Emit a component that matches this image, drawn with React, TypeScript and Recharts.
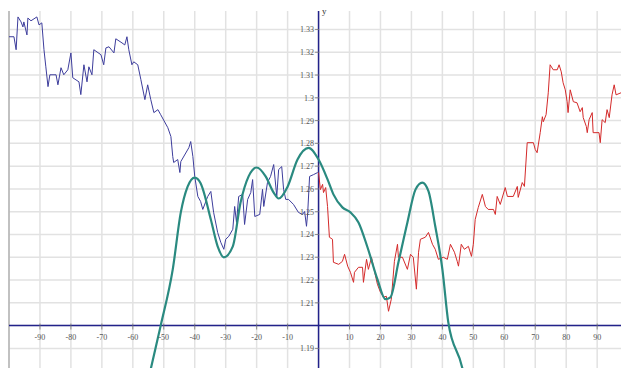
import { LineChart, Line, XAxis, YAxis, CartesianGrid, ReferenceLine } from 'recharts';

const W = 621;
const H = 369;
const M = { top: 11, right: 0, bottom: 0, left: 8 };
const X_DOMAIN: [number, number] = [-100, 97.7];
const Y_DOMAIN: [number, number] = [1.1814, 1.3381];

const xTicks = [-100, -90, -80, -70, -60, -50, -40, -30, -20, -10, 0, 10, 20, 30, 40, 50, 60, 70, 80, 90];
const yTicks = [1.19, 1.2, 1.21, 1.22, 1.23, 1.24, 1.25, 1.26, 1.27, 1.28, 1.29, 1.3, 1.31, 1.32, 1.33];

// serie azul (x < 0)
const blueX = [
    -100, -98.4, -97.7, -97.1, -96.1, -95.5, -95.2, -94.2, -93.9, -92.9, -91.0, -90.3, -89.4, -88.7, -88.1,
    -87.4, -86.8, -84.8, -84.2, -83.2, -82.3, -81.0, -80.0, -79.4, -77.4, -76.8, -75.8, -74.8, -74.2, -73.2,
    -72.6, -70.3, -69.4, -68.7, -67.7, -66.1, -65.5, -63.5, -62.6, -61.9, -61.3, -60.3, -59.7, -58.4, -57.4,
    -56.1, -55.2, -54.2, -53.2, -51.9, -51.0, -48.7, -47.7, -47.1, -46.8, -45.5, -44.8, -44.5, -41.9, -41.3,
    -40.6, -40.0, -39.0, -38.1, -37.4, -35.8, -34.8, -33.9, -32.6, -31.6, -30.6, -30.0, -29.0, -27.7, -27.1,
    -26.5, -25.8, -24.5, -23.9, -22.9, -21.9, -21.3, -20.6, -19.0, -18.1, -17.7, -16.5, -15.5, -14.5, -13.5,
    -12.9, -11.9, -11.3, -10.6, -9.7, -8.1, -6.5, -5.2, -4.5, -3.9, -3.5, -2.9, -1.6, -0.3,
];
const blueY = [
    1.3268, 1.3268, 1.3211, 1.3355, 1.3333, 1.3311, 1.3333, 1.3276, 1.335, 1.3338, 1.3355, 1.332, 1.3329, 1.3211, 1.3136,
    1.3049, 1.3101, 1.3101, 1.3057, 1.3132, 1.3101, 1.3123, 1.3197, 1.3088, 1.307, 1.3014, 1.3145, 1.307, 1.3136, 1.3101,
    1.3211, 1.3189, 1.3145, 1.3219, 1.3224, 1.3197, 1.3259, 1.3241, 1.3232, 1.3268, 1.3211, 1.3145, 1.3158, 1.3145, 1.308,
    1.2992, 1.3057, 1.2992, 1.2935, 1.2948, 1.2926, 1.2869, 1.283, 1.2742, 1.2716, 1.2729, 1.2672, 1.272, 1.2781, 1.2808,
    1.2742, 1.2655, 1.2567, 1.2545, 1.251, 1.2567, 1.2589, 1.2497, 1.2409, 1.2366, 1.2335, 1.2379, 1.2392, 1.2423, 1.2523,
    1.2453, 1.2567, 1.2576, 1.2444, 1.2554, 1.2584, 1.2641, 1.2479, 1.2488, 1.2598, 1.2523, 1.2628, 1.2655, 1.2707, 1.2567,
    1.2685, 1.2698, 1.2598, 1.2554, 1.2554, 1.2532, 1.2497, 1.2488, 1.2501, 1.2436, 1.2497, 1.2655, 1.2663, 1.2672,
];

// serie vermelha (x >= 0)
const redX = [
    0, 0.6, 1.3, 1.6, 2.3, 2.9, 3.5, 4.5, 4.8, 6.5, 7.7, 8.4, 9.4, 10.3, 11.3, 11.6, 12.9, 14.2, 14.5, 15.5,
    16.1, 17.1, 17.7, 19.0, 20.0, 21.0, 21.9, 22.6, 23.5, 24.5, 25.5, 25.8, 27.1, 28.7, 29.7, 30.6, 31.6, 32.3, 32.9, 34.5,
    35.5, 36.8, 37.7, 38.7, 40.3, 41.6, 42.6, 43.9, 44.8, 45.2, 46.1, 47.1, 48.4, 49.4, 50.0, 50.6, 51.6, 52.9, 53.9, 54.8,
    56.5, 57.1, 57.7, 58.7, 60.3, 61.0, 62.9, 64.2, 64.5, 65.8, 66.5, 67.4, 69.4, 70.0, 70.6, 71.6, 72.3, 72.6, 73.5, 74.2,
    74.8, 75.8, 77.1, 77.7, 78.4, 79.0, 79.7, 80.3, 80.6, 81.3, 82.3, 83.5, 84.5, 85.2, 85.5, 86.5, 86.8, 87.4, 88.4, 88.7,
    90.6, 91.0, 91.6, 92.6, 93.2, 93.9, 94.8, 95.5, 96.1, 97.7, 100,
];
const redY = [
    1.2672, 1.2597, 1.262, 1.2584, 1.2606, 1.2523, 1.2388, 1.2379, 1.2278, 1.2269, 1.2282, 1.2313, 1.2261, 1.2234, 1.219, 1.2234, 1.2256, 1.2256, 1.219, 1.2291,
    1.2247, 1.23, 1.2261, 1.2182, 1.2146, 1.2125, 1.2129, 1.2063, 1.2116, 1.2282, 1.2357, 1.23, 1.23, 1.2247, 1.2313, 1.23, 1.216, 1.2322, 1.2379, 1.2388,
    1.2409, 1.2357, 1.2335, 1.2291, 1.23, 1.2291, 1.2357, 1.2322, 1.2282, 1.2261, 1.2357, 1.2335, 1.2348, 1.2304, 1.2357, 1.2466, 1.2519, 1.2576, 1.2523, 1.251,
    1.251, 1.2488, 1.2567, 1.2532, 1.2606, 1.2567, 1.2567, 1.2611, 1.2563, 1.2628, 1.2611, 1.2803, 1.2803, 1.2773, 1.2759, 1.2847, 1.2917, 1.2895, 1.2926, 1.3022,
    1.3145, 1.3123, 1.3123, 1.3145, 1.3114, 1.3066, 1.3035, 1.2983, 1.2935, 1.3035, 1.2983, 1.2978, 1.2939, 1.2957, 1.2913, 1.2874, 1.2847, 1.2904, 1.2935, 1.2847,
    1.2847, 1.2803, 1.2904, 1.2891, 1.2948, 1.2913, 1.3013, 1.3057, 1.3013, 1.3022, 1.302,
];

// curva suave (verde-azulado)
const tealX = [
    -56, -54.2, -51, -47.1, -44.5, -42.3, -40, -38.1, -34.8, -32.6, -30.6, -27.7, -25.2, -22.6, -20, -17.1, -14.5, -12.9, -10, -6.8,
    -3.2, 0, 2.9, 4.8, 7.7, 10.3, 12.9, 15.8, 19, 21.6, 23.2, 25.8, 28.7, 31.3, 33.5, 35.5, 37.7, 40, 41.9, 46.5, 48,
];
const tealY = [
    1.17, 1.181, 1.2, 1.2247, 1.2497, 1.261, 1.265, 1.2625, 1.2466, 1.2348, 1.23, 1.2348, 1.254, 1.2655, 1.2694, 1.2655, 1.2584, 1.2558, 1.261, 1.2729,
    1.278, 1.2729, 1.2642, 1.2576, 1.2519, 1.2497, 1.2453, 1.2344, 1.2204, 1.2116, 1.2124, 1.2278, 1.2453, 1.2597, 1.2628, 1.259, 1.2436, 1.2247, 1.2015, 1.181, 1.17,
];

const toPoints = (xs: number[], ys: number[]) => xs.map((x, i) => ({ x, y: ys[i] }));
const blue = toPoints(blueX, blueY);
const red = toPoints(redX, redY);
const teal = toPoints(tealX, tealY);

const plotW = W - M.left - M.right;
const plotH = H - M.top - M.bottom;
// posição dos eixos que se cruzam em (0, 1.2)
const axisX = M.left + ((0 - X_DOMAIN[0]) / (X_DOMAIN[1] - X_DOMAIN[0])) * plotW;
const axisY = M.top + ((Y_DOMAIN[1] - 1.2) / (Y_DOMAIN[1] - Y_DOMAIN[0])) * plotH;

const AXIS = '#22228a';
const LABEL = { fontSize: 8, fill: '#555', fontFamily: '"Liberation Serif", serif' };

const renderXTick = (props: any) => {
    const { x, payload, index } = props;
    const v = payload.value;
    if (v === 0 || v === -100) return <g key={`xt-${index}`} />;
    return (
        <g key={`xt-${index}`}>
            <line x1={x} x2={x} y1={axisY - 3} y2={axisY + 3} stroke="#777" strokeWidth={0.8} />
            <text x={x} y={axisY + 13} textAnchor="middle" {...LABEL}>
                {v}
            </text>
        </g>
    );
};

const renderYTick = (props: any) => {
    const { y, payload, index } = props;
    const v = payload.value;
    if (Math.abs(v - 1.2) < 1e-6) return <g key={`yt-${index}`} />;
    return (
        <g key={`yt-${index}`}>
            <line x1={axisX - 3} x2={axisX + 1} y1={y} y2={y} stroke="#777" strokeWidth={0.8} />
            <text x={axisX - 4} y={y + 3} textAnchor="end" {...LABEL}>
                {Number(v.toFixed(2)).toString()}
            </text>
        </g>
    );
};

export default function App() {
    return (
        <div style={{ position: 'absolute', left: 0, top: 0, width: W, height: H, background: '#fff' }}>
            <LineChart width={W} height={H} margin={M}>
                <CartesianGrid
                    stroke="#e2e2e2"
                    strokeWidth={1.5}
                    horizontalValues={yTicks}
                    verticalValues={xTicks}
                />
                <XAxis
                    type="number"
                    dataKey="x"
                    domain={X_DOMAIN}
                    allowDataOverflow
                    ticks={xTicks}
                    interval={0}
                    height={1}
                    axisLine={false}
                    tickLine={false}
                    tick={renderXTick}
                />
                <YAxis
                    type="number"
                    dataKey="y"
                    domain={Y_DOMAIN}
                    allowDataOverflow
                    ticks={yTicks}
                    interval={0}
                    width={1}
                    axisLine={false}
                    tickLine={false}
                    tick={renderYTick}
                />
                <ReferenceLine x={-100} stroke="#999" strokeWidth={1} />
                <ReferenceLine x={0} stroke={AXIS} strokeWidth={1.5} />
                <ReferenceLine y={1.2} stroke={AXIS} strokeWidth={1.5} />
                <Line data={blue} dataKey="y" type="linear" stroke="#3d3d9c" strokeWidth={1} dot={false} isAnimationActive={false} />
                <Line data={red} dataKey="y" type="linear" stroke="#d42a2a" strokeWidth={1} dot={false} isAnimationActive={false} />
                <Line data={teal} dataKey="y" type="monotone" stroke="#2a8a80" strokeWidth={2.2} dot={false} isAnimationActive={false} />
            </LineChart>
            <span
                style={{
                    position: 'absolute',
                    left: axisX + 4,
                    top: 6,
                    fontSize: 9,
                    color: '#333',
                    fontFamily: '"Liberation Serif", serif',
                }}
            >
                y
            </span>
        </div>
    );
}
